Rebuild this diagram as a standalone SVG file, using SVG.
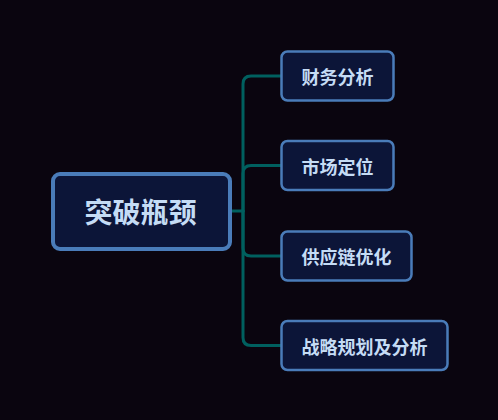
<svg xmlns="http://www.w3.org/2000/svg" width="498" height="420" viewBox="0 0 498 420">
<style>
.bg{fill:#0a050f}
.node{fill:#0c1538;stroke:#4a7cb9;stroke-width:2.5}
.root{fill:#0c1538;stroke:#4a7cb9;stroke-width:4}
.t{font-family:"Noto Sans CJK SC","Noto Sans",sans-serif;font-weight:bold;fill:#c5dcf5;text-anchor:middle;dominant-baseline:central}
.c{fill:none;stroke:#00605f;stroke-width:3;stroke-linecap:round;stroke-linejoin:round}
</style>
<rect class="bg" x="0" y="0" width="498" height="420"/>
<g id="connectors">
<path class="c" d="M231,211 H243"/>
<path class="c" d="M243,211 V84 Q243,76 251,76 H281"/>
<path class="c" d="M243,211 V173.5 Q243,165.5 251,165.5 H281"/>
<path class="c" d="M243,211 V248 Q243,256 251,256 H281"/>
<path class="c" d="M243,211 V337.5 Q243,345.5 251,345.5 H281"/>
</g>
<g id="root">
<rect class="root" x="53" y="174" width="177" height="75" rx="7"/>
<text class="t" x="140.5" y="211" font-size="28">突破瓶颈</text>
</g>
<g id="n1">
<rect class="node" x="281.5" y="51.5" width="112" height="49" rx="6"/>
<text class="t" x="337.5" y="76" font-size="18">财务分析</text>
</g>
<g id="n2">
<rect class="node" x="281.5" y="141" width="112" height="49" rx="6"/>
<text class="t" x="337.5" y="165.5" font-size="18">市场定位</text>
</g>
<g id="n3">
<rect class="node" x="281.5" y="231.5" width="130" height="49" rx="6"/>
<text class="t" x="346.5" y="256" font-size="18">供应链优化</text>
</g>
<g id="n4">
<rect class="node" x="281.5" y="321" width="166" height="49" rx="6"/>
<text class="t" x="364.5" y="345.5" font-size="18">战略规划及分析</text>
</g>
</svg>
